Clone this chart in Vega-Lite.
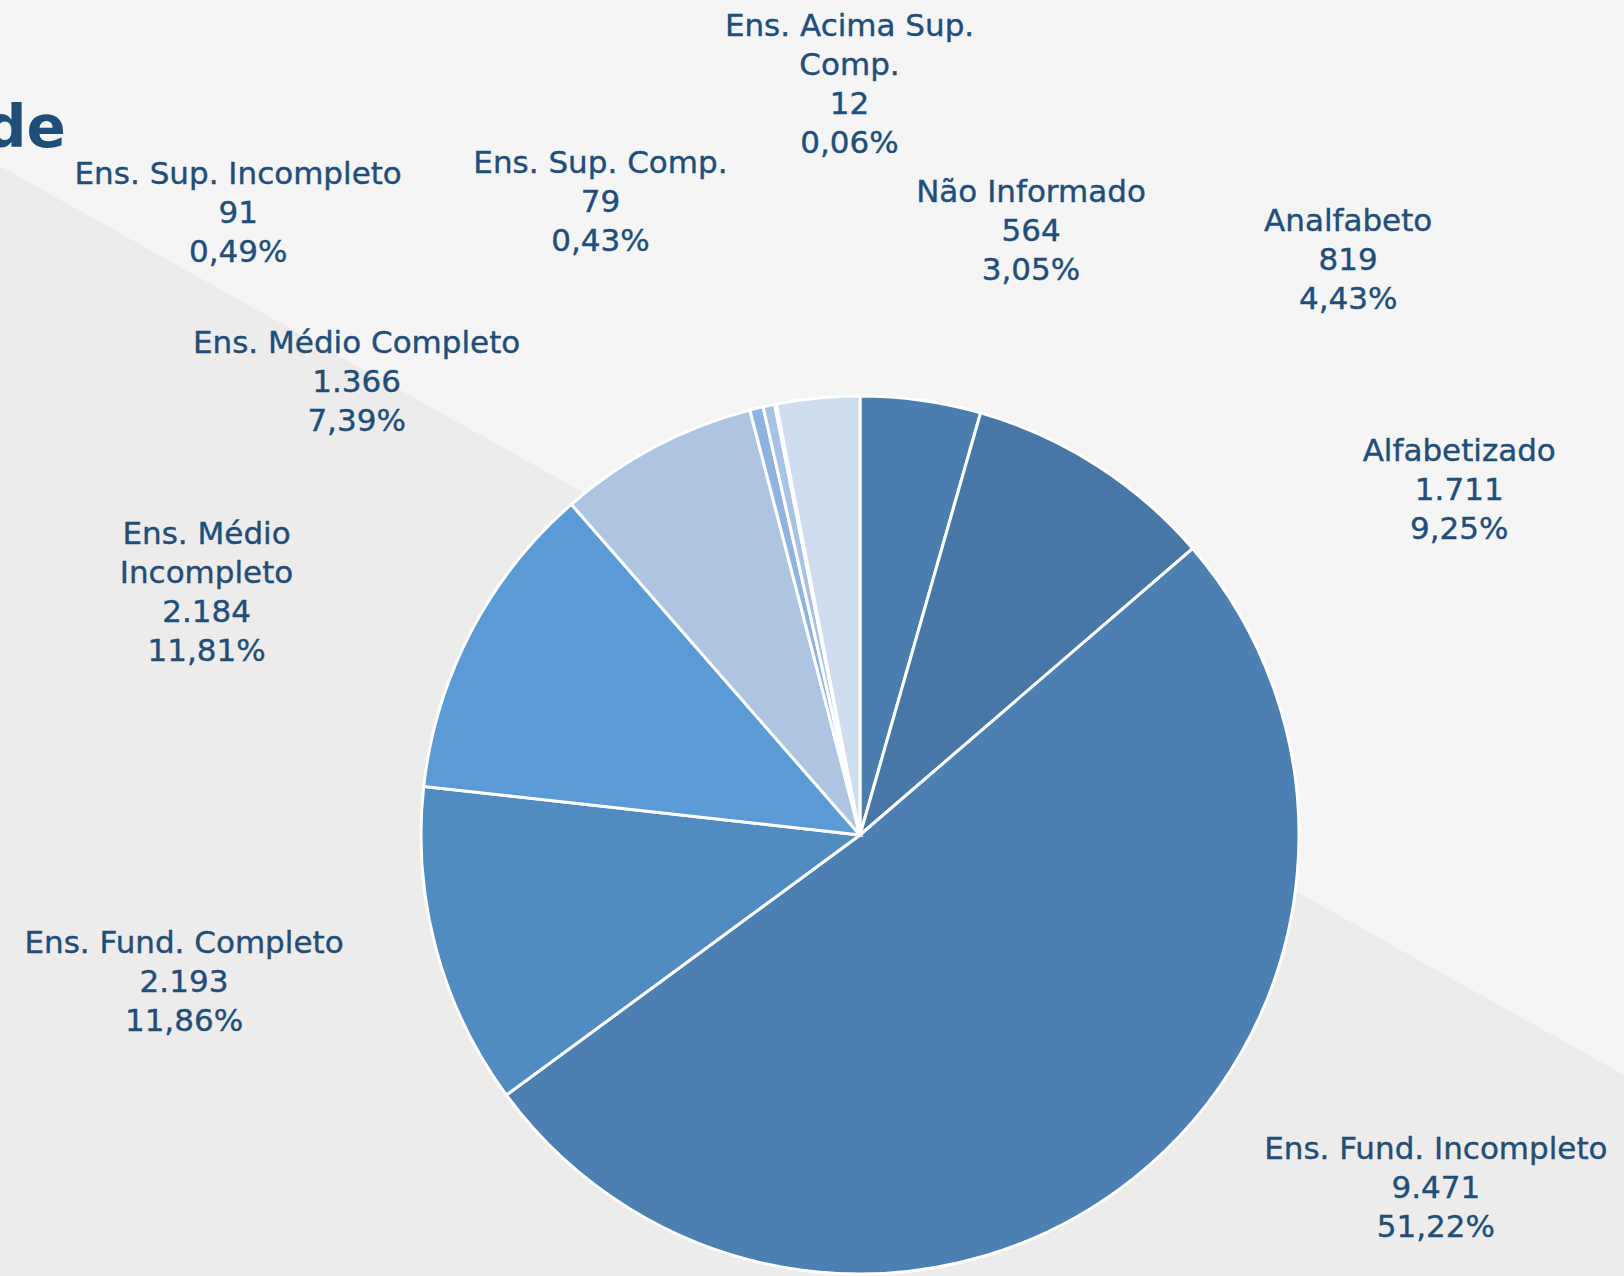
{
  "$schema": "https://vega.github.io/schema/vega-lite/v6.json",
  "autosize": "none",
  "width": 1720,
  "height": 1670,
  "padding": {"left": 0, "top": 0, "right": -96, "bottom": -394},
  "background": "#f5f5f5",
  "view": {
    "stroke": null,
    "fill": {"expr": "{gradient: 'linear', x1: 0.9994, y1: -0.4786, x2: 0.0006, y2: 1.2540, stops: [{offset: 0, color: '#f5f5f5'}, {offset: 0.5, color: '#f5f5f5'}, {offset: 0.5, color: '#edecea'}, {offset: 1, color: '#edecea'}]}"}
  },
  "title": {
    "text": "de",
    "anchor": "start",
    "frame": "group",
    "dx": -15,
    "offset": -205,
    "baseline": "alphabetic",
    "font": "DejaVu Sans",
    "fontSize": 58,
    "fontWeight": "bold",
    "color": "#1f4e79"
  },
  "data": {
    "values": [
      {"order": 1, "category": "Analfabeto", "value": 819, "count": "819", "pct": "4,43%"},
      {"order": 2, "category": "Alfabetizado", "value": 1711, "count": "1.711", "pct": "9,25%"},
      {"order": 3, "category": "Ens. Fund. Incompleto", "value": 9471, "count": "9.471", "pct": "51,22%"},
      {"order": 4, "category": "Ens. Fund. Completo", "value": 2193, "count": "2.193", "pct": "11,86%"},
      {"order": 5, "category": "Ens. Médio\nIncompleto", "value": 2184, "count": "2.184", "pct": "11,81%"},
      {"order": 6, "category": "Ens. Médio Completo", "value": 1366, "count": "1.366", "pct": "7,39%"},
      {"order": 7, "category": "Ens. Sup. Incompleto", "value": 91, "count": "91", "pct": "0,49%"},
      {"order": 8, "category": "Ens. Sup. Comp.", "value": 79, "count": "79", "pct": "0,43%"},
      {"order": 9, "category": "Ens. Acima Sup.\nComp.", "value": 12, "count": "12", "pct": "0,06%"},
      {"order": 10, "category": "Não Informado", "value": 564, "count": "564", "pct": "3,05%"}
    ]
  },
  "transform": [
    {"calculate": "datum.category + '\\n' + datum.count + '\\n' + datum.pct", "as": "label"}
  ],
  "encoding": {
    "theta": {"field": "value", "type": "quantitative", "stack": true},
    "order": {"field": "order", "type": "quantitative"}
  },
  "layer": [
    {
      "mark": {"type": "arc", "outerRadius": 439, "stroke": "#ffffff", "strokeWidth": 3},
      "encoding": {
        "color": {
          "field": "order",
          "type": "nominal",
          "scale": {
            "domain": [1, 2, 3, 4, 5, 6, 7, 8, 9, 10],
            "range": ["#4a7eae", "#4677a5", "#4d80b2", "#528bc1", "#5b9bd5", "#adc5e3", "#8fb3de", "#a7c2e5", "#c4d6ee", "#cfdcee"]
          },
          "legend": null
        }
      }
    },
    {"mark": {"type": "text", "radius": 470, "dx": 423, "dy": -163}, "encoding": {"text": {"condition": {"test": "datum.order === 1", "field": "label"}, "value": ""}}},
    {"mark": {"type": "text", "radius": 470, "dx": 346, "dy": -2}, "encoding": {"text": {"condition": {"test": "datum.order === 2", "field": "label"}, "value": ""}}},
    {"mark": {"type": "text", "radius": 470, "dx": 283, "dy": -68}, "encoding": {"text": {"condition": {"test": "datum.order === 3", "field": "label"}, "value": ""}}},
    {"mark": {"type": "text", "radius": 470, "dx": -222, "dy": -28}, "encoding": {"text": {"condition": {"test": "datum.order === 4", "field": "label"}, "value": ""}}},
    {"mark": {"type": "text", "radius": 470, "dx": -237, "dy": -97}, "encoding": {"text": {"condition": {"test": "datum.order === 5", "field": "label"}, "value": ""}}},
    {"mark": {"type": "text", "radius": 470, "dx": -284, "dy": -90}, "encoding": {"text": {"condition": {"test": "datum.order === 6", "field": "label"}, "value": ""}}},
    {"mark": {"type": "text", "radius": 470, "dx": -511, "dy": -218}, "encoding": {"text": {"condition": {"test": "datum.order === 7", "field": "label"}, "value": ""}}},
    {"mark": {"type": "text", "radius": 470, "dx": -162, "dy": -226}, "encoding": {"text": {"condition": {"test": "datum.order === 8", "field": "label"}, "value": ""}}},
    {"mark": {"type": "text", "radius": 470, "dx": 80, "dy": -362}, "encoding": {"text": {"condition": {"test": "datum.order === 9", "field": "label"}, "value": ""}}},
    {"mark": {"type": "text", "radius": 470, "dx": 216, "dy": -189}, "encoding": {"text": {"condition": {"test": "datum.order === 10", "field": "label"}, "value": ""}}}
  ],
  "config": {
    "text": {
      "font": "DejaVu Sans",
      "fontSize": 31,
      "fill": "#1f4e79",
      "stroke": "#1f4e79",
      "strokeWidth": 0.4,
      "align": "center",
      "baseline": "top",
      "lineHeight": 39,
      "lineBreak": "\n"
    }
  }
}
